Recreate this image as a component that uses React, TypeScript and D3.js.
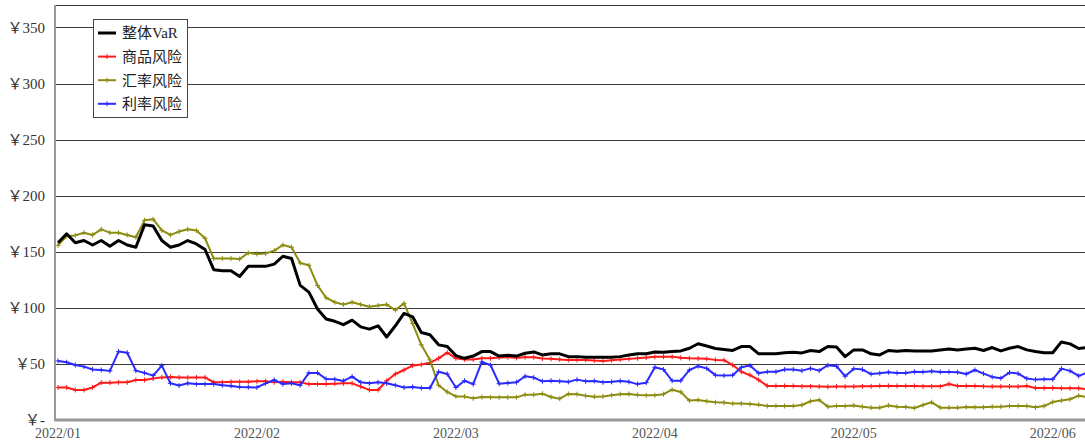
import React, { useEffect, useRef } from "react";
import * as d3 from "d3";

const seriesNames = ["整体VaR", "商品风险", "汇率风险", "利率风险"];
const seriesColors = ["#000000", "#ff1a1a", "#8c8c10", "#2a2aff"];

const xTickLabels = ["2022/01", "2022/02", "2022/03", "2022/04", "2022/05", "2022/06"];
const pointsPerLabel = 23;

const yTicks = [0, 50, 100, 150, 200, 250, 300, 350];

const totalVaR = [
  158, 166, 158, 160, 156, 160, 155, 160, 156, 154, 174, 173, 160, 154, 156, 160, 157, 152, 134, 133, 133, 128, 137, 137,
  137, 139, 146, 144, 120, 114, 99, 90, 88, 85, 89, 83, 81, 84, 74, 84, 95, 92, 78, 76, 67, 65.5, 57.4, 55,
  57, 61, 61, 57, 57.7, 57, 59.5, 60.7, 58, 59, 59, 56.5, 56.5, 56, 56, 56, 56, 56.5, 58, 59, 59, 60.7, 60.4, 61,
  61.6, 64, 68, 66, 63.7, 62.8, 62, 65.5, 65.5, 59, 59, 59, 60, 60.4, 59.8, 62, 61, 65.5, 65, 56.5, 62.5, 62.5, 59,
  58, 62, 61.3, 62, 61.6, 61.6, 61.6, 62.5, 63.4, 62.5, 63.4, 64, 62, 64.6, 61.6, 64, 65.5, 62.5, 61, 60, 60, 69.6,
  67.9, 63.7, 64.6,
];

const commodityRisk = [
  29, 29, 26.8, 26.8, 29, 33.3, 33.3, 33.6, 33.6, 35.7, 35.7, 37, 38, 38.4, 38, 37.8, 38, 38, 33.6, 33.6, 34, 34, 34, 34.5,
  34.5, 33.6, 34, 33.6, 33.6, 32, 32, 32, 32.4, 32.7, 32.7, 29.8, 26.8, 26.8, 35, 41, 44.6, 48.5, 49.4, 51, 55, 60, 55, 54,
  54, 55, 55, 55.7, 56, 55.4, 56, 56, 54.8, 54.5, 54, 53.6, 53.6, 53.6, 53, 52.7, 53.3, 53.9, 54.5, 55, 55.7, 56.3, 56.5,
  56.5, 55.4, 55, 54.8, 54.5, 53.6, 53.3, 49, 43, 40, 35.7, 30.4, 30.4, 30.4, 30.4, 30, 30, 29.8, 29.6, 29.8, 29.8,
  29.8, 30, 30, 30.4, 30.4, 30.4, 30.4, 30.4, 30, 30, 30, 32.1, 30.4, 30.4, 30.4, 30, 29.8, 29.8, 29.8, 29.8, 30.4,
  28.6, 28.6, 28.6, 28.3, 28.3, 28.3, 27.4,
];

const fxRisk = [
  155.7, 164, 164.6, 167, 165, 170, 167, 167, 165, 163, 178, 179, 169, 165, 168, 170, 169, 162, 144, 144, 144, 143.5, 149, 148,
  148.5, 151, 156, 154, 140, 138, 120, 109, 105, 103, 105, 103, 101, 102, 103, 98, 104, 86, 67, 53.6, 31, 25, 21, 21,
  19.3, 20.5, 20.2, 20.2, 20.2, 20.2, 22.6, 22.6, 23.5, 20.5, 19, 23.2, 23, 21.7, 20.8, 21, 22, 23, 23.2, 22.3, 22, 22,
  23, 27, 25, 17.3, 17.9, 16.7, 15.8, 15.5, 14.6, 14.6, 14.3, 13.7, 12.5, 12.5, 12.5, 12.5, 13.4, 16.7, 17.9, 11.9,
  12.5, 12.5, 13, 11.9, 11, 11, 13, 11.9, 11.6, 10.7, 13.4, 15.8, 11, 11, 11, 11.6, 11.3, 11.3, 11.9, 11.9, 12.5, 12.5,
  12.5, 11.3, 12.5, 16, 17.3, 18.5, 21.7, 20.5,
];

const rateRisk = [
  52.7, 51.5, 49, 47.6, 45, 44.6, 43.8, 61, 60, 44, 42, 39.6, 48.5, 32.7, 30.7, 32.7, 32, 32, 32, 31, 30.4, 29.5, 29.2, 29,
  32.7, 35.7, 32, 32.7, 31, 42, 42, 36.6, 36.3, 34.8, 38.7, 33.6, 32.7, 33.6, 32.7, 31, 29, 29.5, 28.6, 28.6, 43, 41, 29, 35,
  32, 51.8, 49, 32.4, 33, 33.6, 39, 37.8, 34.5, 35, 34.5, 34, 36, 34.5, 34.8, 33.6, 34, 34.8, 34, 32, 33.3, 47, 45, 35,
  35, 44.6, 48, 46, 40, 39.6, 40, 47, 48.5, 41.7, 43, 43, 45, 45, 44, 46, 44, 48.8, 48, 39, 45.8, 45, 41,
  41.7, 42.6, 42, 42, 43, 42.9, 43.5, 42.9, 42.9, 42.6, 41, 44.6, 41.4, 38.4, 37.2, 42.3, 41.4, 36.9, 36, 36.3, 36.3,
  45.8, 43.8, 39.3, 42.3,
];

const allSeries = [totalVaR, commodityRisk, fxRisk, rateRisk];

const WIDTH = 1085;
const HEIGHT = 442;

const App: React.FC = () => {
  const chartRef = useRef<SVGSVGElement>(null);

  useEffect(() => {
    const svg = d3.select(chartRef.current);
    svg.selectAll("*").remove();

    const plotLeft = 55;
    const plotTop = 5;
    const plotBottom = 420;
    const step = 8.65;
    const n = totalVaR.length;

    const x = d3
      .scaleLinear()
      .domain([0, n - 1])
      .range([58, 58 + step * (n - 1)]);
    const y = d3.scaleLinear().domain([0, 370]).range([plotBottom, plotTop]);

    const numFont = "'Liberation Serif', 'Noto Sans CJK SC', serif";

    // gridlines
    svg
      .append("g")
      .selectAll("line")
      .data(yTicks.filter((d) => d > 0))
      .enter()
      .append("line")
      .attr("x1", plotLeft)
      .attr("x2", WIDTH)
      .attr("y1", (d) => Math.round(y(d)) + 0.5)
      .attr("y2", (d) => Math.round(y(d)) + 0.5)
      .attr("stroke", "#3a3a3a")
      .attr("stroke-width", 1);

    // top border
    svg
      .append("line")
      .attr("x1", plotLeft)
      .attr("x2", WIDTH)
      .attr("y1", plotTop + 0.5)
      .attr("y2", plotTop + 0.5)
      .attr("stroke", "#3a3a3a");

    // axes
    svg
      .append("line")
      .attr("x1", plotLeft)
      .attr("x2", plotLeft)
      .attr("y1", plotTop)
      .attr("y2", plotBottom)
      .attr("stroke", "#9a9a9a")
      .attr("stroke-width", 2);
    svg
      .append("line")
      .attr("x1", plotLeft - 1)
      .attr("x2", WIDTH)
      .attr("y1", plotBottom)
      .attr("y2", plotBottom)
      .attr("stroke", "#9a9a9a")
      .attr("stroke-width", 3);

    // y labels
    svg
      .append("g")
      .selectAll("text")
      .data(yTicks)
      .enter()
      .append("text")
      .attr("x", 45)
      .attr("y", (d) => y(d))
      .attr("dy", "0.35em")
      .attr("text-anchor", "end")
      .style("font-family", numFont)
      .style("font-size", "15px")
      .style("fill", "#333")
      .text((d) => (d === 0 ? "￥-" : `￥${d}`));

    // x labels
    svg
      .append("g")
      .selectAll("text")
      .data(xTickLabels)
      .enter()
      .append("text")
      .attr("x", (_d, i) => x(i * pointsPerLabel))
      .attr("y", 438)
      .attr("text-anchor", "middle")
      .style("font-family", numFont)
      .style("font-size", "14px")
      .style("fill", "#555")
      .text((d) => d);

    const line = d3
      .line<number>()
      .x((_d, i) => x(i))
      .y((d) => y(d));

    // draw series: the small ones first, the total on top
    const order = [1, 2, 3, 0];
    order.forEach((s) => {
      const g = svg.append("g");
      g.append("path")
        .datum(allSeries[s])
        .attr("d", line)
        .attr("fill", "none")
        .attr("stroke", seriesColors[s])
        .attr("stroke-width", s === 0 ? 3 : 2)
        .attr("stroke-linejoin", "round");
      if (s !== 0) {
        g.selectAll("path.mk")
          .data(allSeries[s])
          .enter()
          .append("path")
          .attr("class", "mk")
          .attr("d", (d, i) => {
            const cx = x(i);
            const cy = y(d);
            return `M${cx - 2.5},${cy}H${cx + 2.5}M${cx},${cy - 2.5}V${cy + 2.5}`;
          })
          .attr("stroke", seriesColors[s])
          .attr("stroke-width", 1);
      }
    });

    // legend
    const legend = svg.append("g");
    legend
      .append("rect")
      .attr("x", 93.5)
      .attr("y", 19.5)
      .attr("width", 94)
      .attr("height", 98)
      .attr("fill", "#fff")
      .attr("stroke", "#444");
    seriesNames.forEach((name, i) => {
      const cy = 33 + i * 23.6;
      legend
        .append("line")
        .attr("x1", 98)
        .attr("x2", 116)
        .attr("y1", cy)
        .attr("y2", cy)
        .attr("stroke", seriesColors[i])
        .attr("stroke-width", i === 0 ? 3 : 2);
      if (i !== 0) {
        legend
          .append("path")
          .attr("d", `M104.5,${cy}H109.5M107,${cy - 2.5}V${cy + 2.5}`)
          .attr("stroke", seriesColors[i])
          .attr("stroke-width", 1);
      }
      legend
        .append("text")
        .attr("x", 122)
        .attr("y", cy)
        .attr("dy", "0.36em")
        .style("font-family", numFont)
        .style("font-size", "15px")
        .style("fill", "#222")
        .text(name);
    });
  }, []);

  return (
    <svg
      ref={chartRef}
      width={WIDTH}
      height={HEIGHT}
      style={{ position: "absolute", left: 0, top: 0, background: "#fff" }}
    />
  );
};

export default App;
